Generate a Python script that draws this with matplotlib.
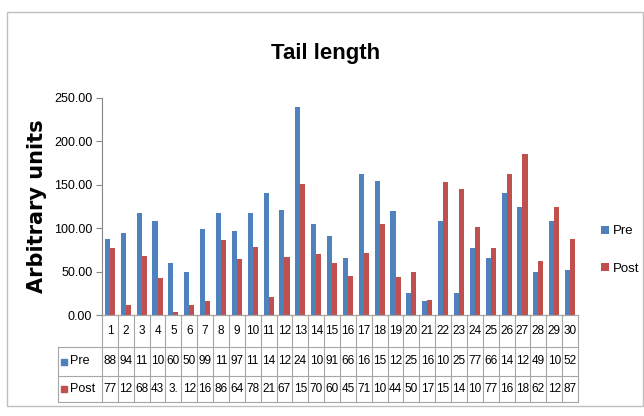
import matplotlib.pyplot as plt
from matplotlib.lines import Line2D
from matplotlib.patches import Rectangle
import numpy as np

# Data
categories = [str(i) for i in range(1, 31)]
pre = [88, 94, 118, 108, 60, 50, 99, 117, 97, 118, 141, 121, 240, 105, 91,
       66, 163, 154, 120, 25, 16, 108, 25, 77, 66, 140, 124, 49, 108, 52]
post = [77, 12, 68, 43, 3, 12, 16, 86, 64, 78, 21, 67, 151, 70, 60,
        45, 71, 105, 44, 50, 17, 153, 145, 101, 77, 162, 185, 62, 124, 87]
series_names = ['Pre', 'Post']
yticks = [0, 50, 100, 150, 200, 250]

blue = '#4F81BD'
red = '#C0504D'
grid_c = '#A6A6A6'
FONT = ['Liberation Sans', 'DejaVu Sans']

W, H = 644, 416
def fx(x):
    return x / W
def fy(y):
    return 1 - y / H

fig = plt.figure(figsize=(W / 100, H / 100), dpi=100)

# chart area border
fig.add_artist(Rectangle((fx(7), fy(406)), fx(643) - fx(7), fy(12) - fy(406),
                         fill=False, edgecolor='#BFBFBF', lw=1))

x_left, x_right, y_top, y_bot = 102, 578, 98, 315
ax = fig.add_axes([fx(x_left), fy(y_bot), fx(x_right) - fx(x_left), fy(y_top) - fy(y_bot)])

x = np.arange(1, len(categories) + 1)
bw = 0.32
b1 = ax.bar(x - bw / 2, pre, bw, color=blue, label=series_names[0])
b2 = ax.bar(x + bw / 2, post, bw, color=red, label=series_names[1])

ax.set_xlim(0.5, len(categories) + 0.5)
ax.set_ylim(0, 250)
ax.set_yticks(yticks)
ax.set_yticklabels([f'{v:.2f}' for v in yticks], family=FONT, fontsize=9)
ax.set_xticks([])
for s in ['top', 'right']:
    ax.spines[s].set_visible(False)
ax.spines['left'].set_color('#868686')
ax.spines['bottom'].set_color('#868686')
ax.tick_params(axis='y', length=4, color='#868686', pad=3)

ax.set_ylabel('Arbitrary units', fontsize=15, fontweight='bold',
              family='DejaVu Sans')
ax.yaxis.set_label_coords((47 - x_left) / (x_right - x_left), 0.5)
fig.text(fx(326), fy(53), 'Tail length', ha='center', va='center',
         fontsize=16, fontweight='bold', family=FONT)

# data table below the axis
col_w = (x_right - x_left) / len(categories)
rows = [315, 347, 376, 402]
leg_left = 58

def hline(x0, x1, y):
    fig.add_artist(Line2D([fx(x0), fx(x1)], [fy(y), fy(y)], color=grid_c, lw=0.8))

def vline(x, y0, y1):
    fig.add_artist(Line2D([fx(x), fx(x)], [fy(y0), fy(y1)], color=grid_c, lw=0.8))

hline(x_left, x_right, rows[0])
hline(leg_left, x_right, rows[1])
hline(leg_left, x_right, rows[2])
hline(leg_left, x_right, rows[3])
vline(leg_left, rows[1], rows[3])
for i in range(len(categories) + 1):
    vline(x_left + i * col_w, rows[0], rows[3])

for i, c in enumerate(categories):
    cx = x_left + (i + 0.5) * col_w
    fig.text(fx(cx), fy((rows[0] + rows[1]) / 2), c, ha='center', va='center',
             fontsize=8.5, family=FONT)
    fig.text(fx(cx), fy((rows[1] + rows[2]) / 2), f'{pre[i]:.2f}'[:2],
             ha='center', va='center', fontsize=8.5, family=FONT)
    fig.text(fx(cx), fy((rows[2] + rows[3]) / 2), f'{post[i]:.2f}'[:2],
             ha='center', va='center', fontsize=8.5, family=FONT)

for r, (name, col) in enumerate(zip(series_names, [blue, red])):
    cy = (rows[r + 1] + rows[r + 2]) / 2
    fig.add_artist(Rectangle((fx(leg_left + 3), fy(cy + 3)), 6 / W, 6 / H,
                             color=col))
    fig.text(fx(leg_left + 12), fy(cy), name, ha='left', va='center',
             fontsize=9, family=FONT)

# legend on the right
fig.legend(handles=[b1, b2], labels=series_names, loc='center left',
           bbox_to_anchor=(fx(589), fy(250)), frameon=False,
           handlelength=0.6, handleheight=0.6, handletextpad=0.3,
           labelspacing=1.9, prop={'family': FONT, 'size': 9.5})

fig.savefig('out.png', dpi=100)
